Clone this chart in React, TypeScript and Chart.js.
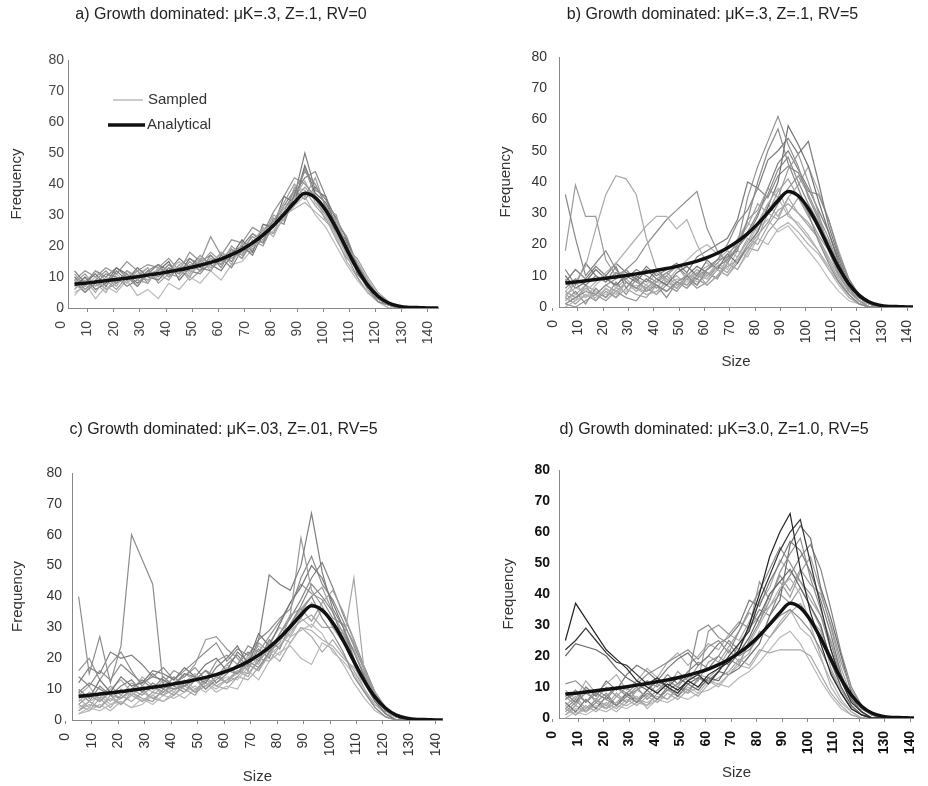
import React, { useEffect, useRef } from 'react';
import { Chart, registerables } from 'chart.js';

Chart.register(...registerables);

const FONT = 'Arial, "Liberation Sans", Helvetica, sans-serif';

// ---------- data ----------
const sizes = [5, 9, 13, 17, 21, 25, 29, 33, 37, 41, 45, 49, 53, 57, 61, 65, 69, 73, 77, 81, 85, 89, 93, 97, 101, 105, 109, 113, 117, 121, 125, 129];
const analyticalSizes = [5, 9, 13, 17, 21, 25, 29, 33, 37, 41, 45, 49, 53, 57, 61, 65, 69, 73, 77, 81, 85, 89, 93, 97, 101, 105, 109, 113, 117, 121, 125, 129, 133, 137, 141, 145];
const analytical = [7.7, 8.0, 8.4, 8.8, 9.2, 9.6, 10.1, 10.6, 11.1, 11.7, 12.3, 13.0, 13.8, 14.7, 15.8, 17.2, 18.9, 21.0, 23.5, 26.6, 30.2, 34.0, 37.0, 35.6, 31.5, 25.7, 19.0, 12.6, 7.4, 3.8, 1.6, 0.6, 0.2, 0.1, 0, 0];
const xTickValues = [0, 10, 20, 30, 40, 50, 60, 70, 80, 90, 100, 110, 120, 130, 140];
const legendLabels = ['Sampled', 'Analytical'];

const titleA = 'a) Growth dominated: μK=.3, Z=.1, RV=0';
const titleB = 'b) Growth dominated: μK=.3, Z=.1, RV=5';
const titleC = 'c) Growth dominated: μK=.03, Z=.01, RV=5';
const titleD = 'd) Growth dominated: μK=3.0, Z=1.0, RV=5';

const sampledA: number[][] = [
  [10, 6, 9, 12, 8, 11, 7, 12, 10, 14, 11, 15, 12, 17, 13, 19, 16, 22, 20, 27, 31, 38, 44, 40, 33, 26, 18, 12, 6, 2, 1, 0],
  [6, 9, 5, 10, 7, 12, 9, 8, 13, 10, 14, 10, 16, 12, 18, 14, 21, 19, 25, 24, 33, 35, 39, 35, 30, 28, 20, 15, 9, 4, 1, 0],
  [12, 8, 11, 7, 12, 9, 13, 10, 9, 13, 11, 16, 13, 12, 17, 15, 20, 17, 24, 27, 30, 36, 50, 38, 36, 25, 22, 13, 8, 3, 1, 0],
  [8, 11, 7, 9, 6, 10, 12, 8, 13, 11, 10, 14, 12, 16, 14, 20, 17, 24, 22, 28, 34, 40, 36, 42, 32, 30, 19, 16, 10, 5, 2, 0],
  [5, 7, 10, 6, 9, 8, 11, 13, 9, 12, 15, 11, 17, 13, 15, 18, 16, 21, 26, 23, 30, 32, 34, 31, 28, 24, 17, 12, 7, 3, 1, 0],
  [9, 5, 8, 11, 10, 7, 9, 12, 14, 10, 13, 12, 11, 15, 16, 13, 19, 23, 21, 29, 27, 37, 42, 44, 36, 28, 23, 14, 9, 4, 1, 0],
  [7, 10, 6, 8, 13, 11, 8, 11, 12, 15, 9, 13, 17, 14, 12, 17, 22, 18, 27, 26, 36, 34, 46, 37, 34, 27, 21, 11, 7, 2, 1, 0],
  [11, 7, 12, 9, 8, 12, 10, 9, 11, 9, 14, 16, 14, 18, 15, 16, 18, 20, 23, 30, 28, 39, 38, 33, 29, 22, 16, 13, 8, 3, 1, 0],
  [4, 8, 3, 7, 5, 9, 4, 6, 3, 8, 6, 10, 8, 12, 9, 14, 15, 19, 22, 25, 29, 33, 36, 30, 26, 20, 14, 9, 5, 2, 0, 0],
  [9, 12, 10, 13, 11, 15, 12, 14, 13, 16, 12, 18, 15, 23, 17, 22, 21, 26, 24, 31, 36, 42, 40, 36, 31, 24, 17, 10, 5, 2, 1, 0],
  [6, 10, 8, 5, 11, 8, 12, 9, 11, 14, 12, 10, 15, 13, 16, 19, 17, 20, 25, 28, 32, 36, 41, 34, 30, 23, 15, 10, 5, 2, 0, 0],
  [10, 8, 12, 10, 13, 10, 7, 11, 14, 12, 16, 13, 15, 17, 14, 18, 20, 24, 21, 27, 33, 38, 35, 39, 35, 29, 22, 14, 8, 3, 1, 0],
  [8, 5, 9, 6, 8, 12, 10, 13, 8, 11, 13, 9, 12, 14, 18, 16, 19, 18, 26, 24, 29, 33, 45, 36, 28, 25, 19, 13, 7, 3, 1, 0],
];

const sampledB: number[][] = [
  [36, 22, 10, 14, 18, 12, 8, 6, 9, 7, 5, 8, 10, 7, 12, 15, 16, 18, 28, 40, 50, 57, 46, 38, 30, 21, 14, 8, 4, 1, 0, 0],
  [18, 39, 29, 29, 15, 10, 12, 8, 6, 9, 11, 8, 7, 10, 12, 14, 17, 20, 28, 31, 38, 35, 44, 49, 40, 30, 18, 10, 5, 2, 0, 0],
  [3, 8, 13, 25, 36, 42, 41, 36, 22, 12, 8, 6, 9, 11, 7, 10, 14, 12, 18, 22, 30, 28, 35, 30, 26, 22, 16, 10, 5, 2, 1, 0],
  [4, 6, 5, 8, 11, 14, 18, 22, 26, 29, 29, 25, 28, 20, 14, 12, 10, 15, 20, 26, 33, 38, 30, 26, 22, 18, 12, 8, 4, 1, 0, 0],
  [1, 3, 5, 4, 7, 9, 12, 15, 20, 24, 28, 31, 34, 37, 25, 18, 14, 20, 35, 45, 53, 61, 52, 45, 35, 28, 20, 12, 6, 2, 0, 0],
  [10, 6, 8, 12, 9, 7, 10, 8, 12, 9, 7, 11, 13, 10, 15, 12, 17, 14, 20, 24, 32, 40, 58, 52, 45, 34, 24, 14, 7, 3, 1, 0],
  [5, 3, 6, 4, 7, 5, 8, 6, 5, 8, 10, 7, 9, 12, 10, 13, 11, 16, 22, 20, 26, 31, 33, 30, 27, 22, 15, 9, 4, 1, 0, 0],
  [2, 4, 3, 5, 4, 6, 5, 7, 6, 8, 7, 9, 8, 11, 9, 12, 14, 12, 17, 25, 28, 24, 26, 22, 18, 14, 9, 5, 2, 1, 0, 0],
  [8, 12, 9, 13, 10, 14, 11, 9, 13, 10, 12, 14, 11, 16, 18, 20, 22, 28, 40, 38, 47, 50, 54, 49, 53, 40, 26, 16, 8, 3, 1, 0],
  [0, 2, 4, 3, 6, 4, 8, 5, 7, 4, 9, 6, 11, 8, 10, 14, 12, 18, 16, 22, 20, 25, 27, 24, 20, 17, 12, 7, 3, 1, 0, 0],
  [6, 9, 7, 10, 8, 11, 9, 12, 10, 8, 11, 13, 10, 9, 12, 15, 20, 27, 31, 38, 35, 42, 45, 43, 37, 36, 28, 17, 9, 4, 1, 0],
  [3, 1, 4, 2, 5, 3, 6, 4, 3, 7, 5, 8, 6, 9, 7, 10, 13, 15, 19, 18, 24, 28, 30, 35, 29, 23, 18, 11, 5, 2, 0, 0],
  [2, 5, 1, 6, 3, 8, 4, 9, 5, 7, 3, 8, 6, 10, 9, 13, 15, 19, 24, 30, 36, 44, 48, 40, 33, 27, 19, 11, 5, 2, 0, 0],
  [9, 4, 7, 2, 6, 3, 8, 5, 9, 6, 10, 13, 9, 7, 11, 9, 16, 21, 26, 33, 30, 37, 41, 35, 30, 26, 21, 13, 6, 2, 1, 0],
  [1, 0, 2, 4, 2, 5, 3, 2, 6, 4, 7, 5, 9, 6, 8, 12, 10, 14, 19, 23, 27, 33, 38, 42, 36, 29, 22, 13, 6, 2, 0, 0],
  [5, 8, 3, 7, 10, 6, 12, 9, 7, 11, 8, 12, 15, 18, 20, 17, 15, 22, 27, 24, 31, 35, 29, 27, 23, 18, 13, 8, 3, 1, 0, 0],
  [12, 7, 14, 10, 8, 13, 6, 10, 8, 12, 9, 6, 10, 13, 11, 9, 14, 19, 23, 29, 38, 46, 50, 44, 38, 31, 24, 15, 7, 3, 1, 0],
  [4, 2, 7, 5, 3, 6, 9, 6, 4, 5, 8, 10, 7, 11, 13, 15, 18, 16, 21, 27, 33, 29, 35, 39, 45, 37, 28, 18, 9, 3, 1, 0],
];

const sampledC: number[][] = [
  [40, 15, 27, 12, 24, 60, 52, 44, 11, 10, 11, 14, 10, 13, 16, 15, 19, 17, 22, 26, 30, 35, 40, 33, 28, 22, 14, 9, 4, 1, 0, 0],
  [12, 17, 15, 22, 20, 21, 18, 14, 13, 11, 15, 14, 12, 17, 20, 24, 18, 26, 47, 44, 42, 50, 67, 48, 36, 30, 20, 12, 6, 2, 0, 0],
  [5, 8, 6, 9, 7, 10, 8, 11, 9, 12, 14, 18, 26, 27, 23, 20, 16, 25, 22, 28, 34, 59, 42, 37, 30, 28, 22, 15, 8, 3, 1, 0],
  [3, 5, 4, 7, 5, 8, 6, 9, 8, 10, 12, 9, 14, 11, 13, 16, 14, 20, 19, 24, 29, 32, 34, 30, 30, 25, 46, 15, 7, 2, 0, 0],
  [7, 4, 9, 6, 10, 8, 11, 9, 13, 10, 12, 15, 11, 14, 17, 15, 20, 24, 21, 27, 25, 30, 29, 26, 24, 20, 17, 12, 6, 2, 1, 0],
  [9, 12, 10, 8, 11, 13, 9, 12, 10, 14, 11, 13, 16, 12, 15, 18, 22, 19, 26, 23, 31, 37, 44, 40, 35, 26, 19, 13, 6, 2, 0, 0],
  [4, 6, 8, 5, 7, 9, 6, 8, 11, 9, 13, 10, 12, 9, 11, 10, 16, 13, 19, 22, 24, 20, 18, 25, 23, 18, 12, 7, 3, 1, 0, 0],
  [10, 7, 13, 9, 14, 11, 12, 16, 15, 13, 17, 14, 18, 20, 16, 22, 19, 28, 24, 31, 38, 43, 50, 46, 38, 30, 22, 14, 8, 3, 1, 0],
  [6, 9, 7, 11, 8, 12, 10, 7, 9, 12, 10, 8, 13, 15, 12, 14, 18, 16, 22, 25, 34, 36, 32, 38, 42, 35, 26, 16, 9, 4, 1, 0],
  [2, 4, 3, 5, 6, 4, 7, 5, 8, 7, 9, 11, 9, 12, 14, 13, 17, 20, 23, 21, 27, 29, 31, 28, 22, 19, 15, 9, 4, 1, 0, 0],
  [14, 11, 16, 13, 18, 15, 12, 14, 17, 13, 16, 19, 22, 25, 19, 23, 21, 26, 29, 33, 36, 46, 53, 44, 39, 32, 24, 16, 8, 3, 1, 0],
  [3, 6, 4, 8, 5, 9, 7, 6, 10, 8, 12, 9, 11, 14, 12, 16, 15, 19, 23, 27, 31, 36, 40, 43, 35, 28, 20, 12, 6, 2, 0, 0],
  [8, 11, 6, 10, 13, 9, 14, 11, 8, 12, 15, 13, 10, 14, 18, 15, 21, 18, 25, 30, 27, 33, 38, 35, 32, 27, 23, 14, 7, 3, 1, 0],
  [2, 3, 5, 3, 6, 4, 5, 8, 6, 9, 7, 10, 12, 10, 13, 15, 18, 16, 21, 24, 28, 33, 30, 36, 31, 29, 18, 10, 4, 1, 0, 0],
  [16, 20, 13, 18, 22, 16, 11, 15, 12, 16, 14, 17, 13, 19, 21, 18, 24, 22, 27, 32, 38, 44, 41, 39, 33, 31, 25, 17, 9, 4, 1, 0],
  [5, 3, 7, 4, 8, 6, 9, 7, 6, 8, 11, 9, 13, 11, 10, 14, 13, 17, 22, 19, 25, 30, 27, 22, 26, 21, 16, 10, 5, 2, 0, 0],
  [9, 6, 11, 8, 7, 10, 13, 10, 14, 11, 9, 13, 16, 14, 18, 21, 17, 23, 20, 28, 33, 39, 46, 51, 43, 34, 26, 17, 9, 3, 1, 0],
];

const sampledD: number[][] = [
  [25, 37, 32, 27, 22, 19, 16, 12, 10, 8, 11, 9, 12, 10, 14, 16, 18, 22, 30, 40, 52, 60, 66, 48, 34, 24, 14, 8, 3, 1, 0, 0],
  [22, 25, 29, 25, 21, 18, 17, 14, 11, 13, 10, 8, 12, 14, 11, 15, 20, 24, 28, 38, 46, 54, 60, 64, 50, 36, 22, 12, 5, 2, 0, 0],
  [20, 24, 23, 22, 20, 16, 13, 11, 9, 12, 10, 13, 11, 9, 13, 12, 17, 21, 26, 33, 40, 44, 48, 42, 36, 30, 18, 10, 4, 1, 0, 0],
  [11, 12, 9, 8, 6, 4, 7, 5, 8, 6, 9, 11, 13, 28, 30, 26, 24, 20, 22, 26, 30, 33, 35, 32, 28, 22, 15, 8, 3, 1, 0, 0],
  [3, 1, 4, 2, 5, 3, 6, 4, 7, 5, 8, 6, 9, 7, 11, 13, 15, 19, 17, 22, 21, 22, 22, 22, 20, 14, 8, 4, 1, 0, 0, 0],
  [6, 8, 5, 9, 7, 10, 8, 11, 14, 16, 18, 20, 22, 19, 23, 25, 21, 28, 35, 41, 48, 55, 50, 44, 40, 33, 22, 12, 5, 2, 0, 0],
  [1, 3, 2, 4, 3, 5, 4, 6, 5, 7, 6, 9, 8, 10, 12, 10, 14, 18, 24, 30, 36, 42, 45, 40, 30, 20, 10, 5, 2, 0, 0, 0],
  [8, 5, 10, 7, 12, 9, 14, 17, 15, 12, 16, 19, 21, 17, 20, 24, 26, 30, 38, 36, 44, 50, 57, 54, 47, 38, 27, 14, 6, 2, 0, 0],
  [4, 7, 3, 6, 4, 8, 5, 9, 7, 11, 9, 8, 12, 14, 13, 16, 22, 18, 21, 28, 26, 30, 34, 37, 32, 28, 16, 9, 4, 1, 0, 0],
  [2, 5, 8, 6, 10, 7, 5, 9, 11, 8, 12, 10, 14, 12, 18, 20, 17, 24, 29, 44, 38, 46, 41, 48, 43, 40, 30, 18, 9, 4, 1, 0],
  [5, 2, 6, 3, 7, 4, 8, 5, 9, 6, 10, 7, 11, 13, 12, 15, 14, 16, 20, 24, 33, 38, 56, 62, 58, 42, 32, 20, 8, 3, 1, 0],
  [0, 2, 1, 3, 2, 4, 3, 5, 4, 6, 5, 7, 6, 8, 9, 11, 10, 13, 15, 18, 22, 26, 28, 24, 18, 12, 7, 3, 1, 0, 0, 0],
  [3, 6, 2, 5, 8, 4, 7, 10, 6, 9, 12, 10, 8, 13, 11, 15, 19, 17, 25, 31, 38, 47, 53, 58, 45, 35, 24, 13, 6, 2, 0, 0],
  [7, 4, 9, 5, 3, 7, 10, 6, 9, 13, 10, 15, 12, 17, 20, 18, 23, 28, 34, 31, 40, 44, 39, 47, 52, 41, 29, 16, 7, 2, 0, 0],
  [1, 4, 2, 6, 3, 5, 8, 6, 4, 8, 6, 10, 9, 12, 28, 30, 27, 31, 29, 33, 36, 40, 37, 42, 36, 29, 19, 10, 4, 1, 0, 0],
  [9, 6, 12, 8, 11, 14, 9, 12, 16, 13, 18, 21, 17, 20, 24, 22, 27, 25, 31, 37, 42, 51, 47, 44, 38, 33, 25, 14, 6, 2, 0, 0],
  [4, 1, 3, 6, 4, 2, 5, 7, 3, 6, 9, 7, 10, 8, 12, 11, 14, 17, 16, 21, 26, 31, 35, 29, 26, 19, 12, 6, 2, 0, 0, 0],
  [6, 9, 5, 8, 6, 10, 7, 9, 12, 10, 14, 11, 15, 18, 16, 20, 25, 22, 29, 35, 33, 41, 46, 52, 56, 48, 35, 21, 10, 4, 1, 0],
];

// ---------- styling ----------
const shadesA = ['#8e8e8e', '#a6a6a6', '#7a7a7a', '#9c9c9c', '#b2b2b2', '#858585', '#6f6f6f', '#a0a0a0', '#b8b8b8', '#939393', '#ababab', '#7f7f7f', '#989898'];
const shadesB = ['#8a8a8a', '#9a9a9a', '#a8a8a8', '#b0b0b0', '#8f8f8f', '#707070', '#a4a4a4', '#bcbcbc', '#7c7c7c', '#b4b4b4', '#888888', '#9e9e9e', '#8c8c8c', '#a2a2a2', '#969696', '#b6b6b6', '#7e7e7e', '#aaaaaa'];
const shadesC = ['#8c8c8c', '#7e7e7e', '#9a9a9a', '#a6a6a6', '#b0b0b0', '#868686', '#b6b6b6', '#747474', '#a0a0a0', '#bababa', '#8a8a8a', '#9c9c9c', '#acacac', '#b4b4b4', '#929292', '#a8a8a8', '#828282'];
const shadesD = ['#222222', '#333333', '#666666', '#8a8a8a', '#a8a8a8', '#8e8e8e', '#b0b0b0', '#7a7a7a', '#a4a4a4', '#969696', '#6c6c6c', '#b8b8b8', '#909090', '#a0a0a0', '#9a9a9a', '#acacac', '#b4b4b4', '#848484'];

type Spec = {
  key: string;
  left: number;
  top: number;
  width: number;
  height: number;
  title: string;
  titlePad: [number, number];
  area: { left: number; right: number; bottom: number };
  xMax: number;
  xTitle: boolean;
  xTitlePad: number;
  yTitlePad: number;
  yTickPad: number;
  tickColor: string;
  tickBold: boolean;
  sampled: number[][];
  shades: string[];
  legend: boolean;
};

const X_AXIS_H = 66;

const specs: Spec[] = [
  { key: 'a', left: 0, top: 0, width: 454, height: 390, title: titleA, titlePad: [5.4, 35.4], area: { left: 68, right: 442, bottom: 308 }, xMax: 144, xTitle: false, xTitlePad: 2, yTitlePad: 8, yTickPad: 4, tickColor: '#444', tickBold: false, sampled: sampledA, shades: shadesA, legend: true },
  { key: 'b', left: 497, top: 0, width: 436, height: 390, title: titleB, titlePad: [5.4, 32.4], area: { left: 62, right: 431, bottom: 307 }, xMax: 142.3, xTitle: true, xTitlePad: 2, yTitlePad: 0, yTickPad: 12, tickColor: '#333', tickBold: false, sampled: sampledB, shades: shadesB, legend: false },
  { key: 'c', left: 0, top: 390, width: 462, height: 396, title: titleC, titlePad: [30.4, 33.4], area: { left: 72, right: 447, bottom: 330 }, xMax: 142.6, xTitle: true, xTitlePad: 0, yTitlePad: 9, yTickPad: 10, tickColor: '#333', tickBold: false, sampled: sampledC, shades: shadesC, legend: false },
  { key: 'd', left: 500, top: 390, width: 436, height: 396, title: titleD, titlePad: [30.4, 30.4], area: { left: 59, right: 428, bottom: 328 }, xMax: 141.5, xTitle: true, xTitlePad: 2, yTitlePad: 0, yTickPad: 9, tickColor: '#111', tickBold: true, sampled: sampledD, shades: shadesD, legend: false },
];

const insideLegend = {
  id: 'insideLegend',
  afterDraw(chart: any) {
    const { ctx, chartArea } = chart;
    const items = [
      { text: legendLabels[0], color: '#999999', width: 1, x1: 45, x2: 75, tx: 80, dy: 40 },
      { text: legendLabels[1], color: '#111111', width: 3.5, x1: 40, x2: 77, tx: 79, dy: 65 },
    ];
    ctx.save();
    ctx.font = `15px ${FONT}`;
    ctx.textBaseline = 'middle';
    ctx.textAlign = 'left';
    items.forEach((it) => {
      const y = chartArea.top + it.dy;
      ctx.strokeStyle = it.color;
      ctx.lineWidth = it.width;
      ctx.beginPath();
      ctx.moveTo(chartArea.left + it.x1, y);
      ctx.lineTo(chartArea.left + it.x2, y);
      ctx.stroke();
      ctx.fillStyle = '#333';
      ctx.fillText(it.text, chartArea.left + it.tx, y);
    });
    ctx.restore();
  },
};

function buildDatasets(spec: Spec) {
  const ds: any[] = [
    {
      label: legendLabels[1],
      data: analyticalSizes.map((x, i) => ({ x, y: analytical[i] })),
      borderColor: '#111111',
      borderWidth: 3.5,
      pointRadius: 0,
      cubicInterpolationMode: 'monotone',
      fill: false,
    },
  ];
  spec.sampled.forEach((vals, k) => {
    ds.push({
      label: legendLabels[0],
      data: sizes.map((x, i) => ({ x, y: vals[i] })),
      borderColor: spec.shades[k % spec.shades.length],
      borderWidth: 1.2,
      pointRadius: 0,
      tension: 0,
      fill: false,
    });
  });
  return ds;
}

function Panel({ spec }: { spec: Spec }) {
  const ref = useRef<HTMLCanvasElement>(null);
  useEffect(() => {
    if (!ref.current) return;
    const tickFont = { family: FONT, size: 14, weight: spec.tickBold ? 'bold' : 'normal' } as any;
    const axisTitleFont = { family: FONT, size: 15, lineHeight: 1.2 } as any;
    const chart = new Chart(ref.current, {
      type: 'line',
      data: { datasets: buildDatasets(spec) },
      options: {
        responsive: false,
        animation: false,
        devicePixelRatio: 1,
        layout: {
          autoPadding: false,
          padding: {
            left: 0,
            top: 0,
            right: spec.width - spec.area.right,
            bottom: spec.height - spec.area.bottom - X_AXIS_H,
          },
        },
        plugins: {
          legend: { display: false },
          tooltip: { enabled: false },
          title: {
            display: true,
            text: spec.title,
            color: '#222',
            font: { family: FONT, size: 16, lineHeight: 1.2, weight: 'normal' },
            padding: { top: spec.titlePad[0], bottom: spec.titlePad[1] },
          },
        },
        scales: {
          x: {
            type: 'linear',
            min: 2.5,
            max: spec.xMax,
            afterBuildTicks: (scale: any) => {
              scale.ticks = xTickValues.map((v) => ({ value: v }));
            },
            afterFit: (scale: any) => {
              scale.height = X_AXIS_H;
            },
            ticks: {
              autoSkip: false,
              minRotation: 90,
              maxRotation: 90,
              padding: 9,
              color: spec.tickColor,
              font: tickFont,
            },
            grid: { display: true, drawOnChartArea: false, drawTicks: true, tickLength: 4, color: '#888' },
            border: { display: true, color: '#888', width: 1 },
            title: {
              display: spec.xTitle,
              text: 'Size',
              color: '#333',
              font: axisTitleFont,
              padding: { top: 0, bottom: spec.xTitlePad },
            },
          },
          y: {
            min: 0,
            max: 80,
            afterFit: (scale: any) => {
              scale.width = spec.area.left;
            },
            ticks: {
              stepSize: 10,
              padding: spec.yTickPad,
              color: spec.tickColor,
              font: tickFont,
            },
            grid: { display: false, drawTicks: false },
            border: { display: true, color: '#888', width: 1 },
            title: {
              display: true,
              text: 'Frequency',
              color: '#333',
              font: axisTitleFont,
              padding: { top: spec.yTitlePad, bottom: 0 },
            },
          },
        },
      } as any,
      plugins: spec.legend ? [insideLegend as any] : [],
    });
    return () => chart.destroy();
  }, [spec]);
  return (
    <div style={{ position: 'absolute', left: spec.left, top: spec.top, width: spec.width, height: spec.height }}>
      <canvas ref={ref} width={spec.width} height={spec.height} style={{ display: 'block', width: spec.width, height: spec.height }} />
    </div>
  );
}

export default function App() {
  return (
    <div style={{ position: 'fixed', left: 0, top: 0, width: 928, height: 786, overflow: 'hidden', background: '#ffffff' }}>
      {specs.map((s) => (
        <Panel key={s.key} spec={s} />
      ))}
    </div>
  );
}
